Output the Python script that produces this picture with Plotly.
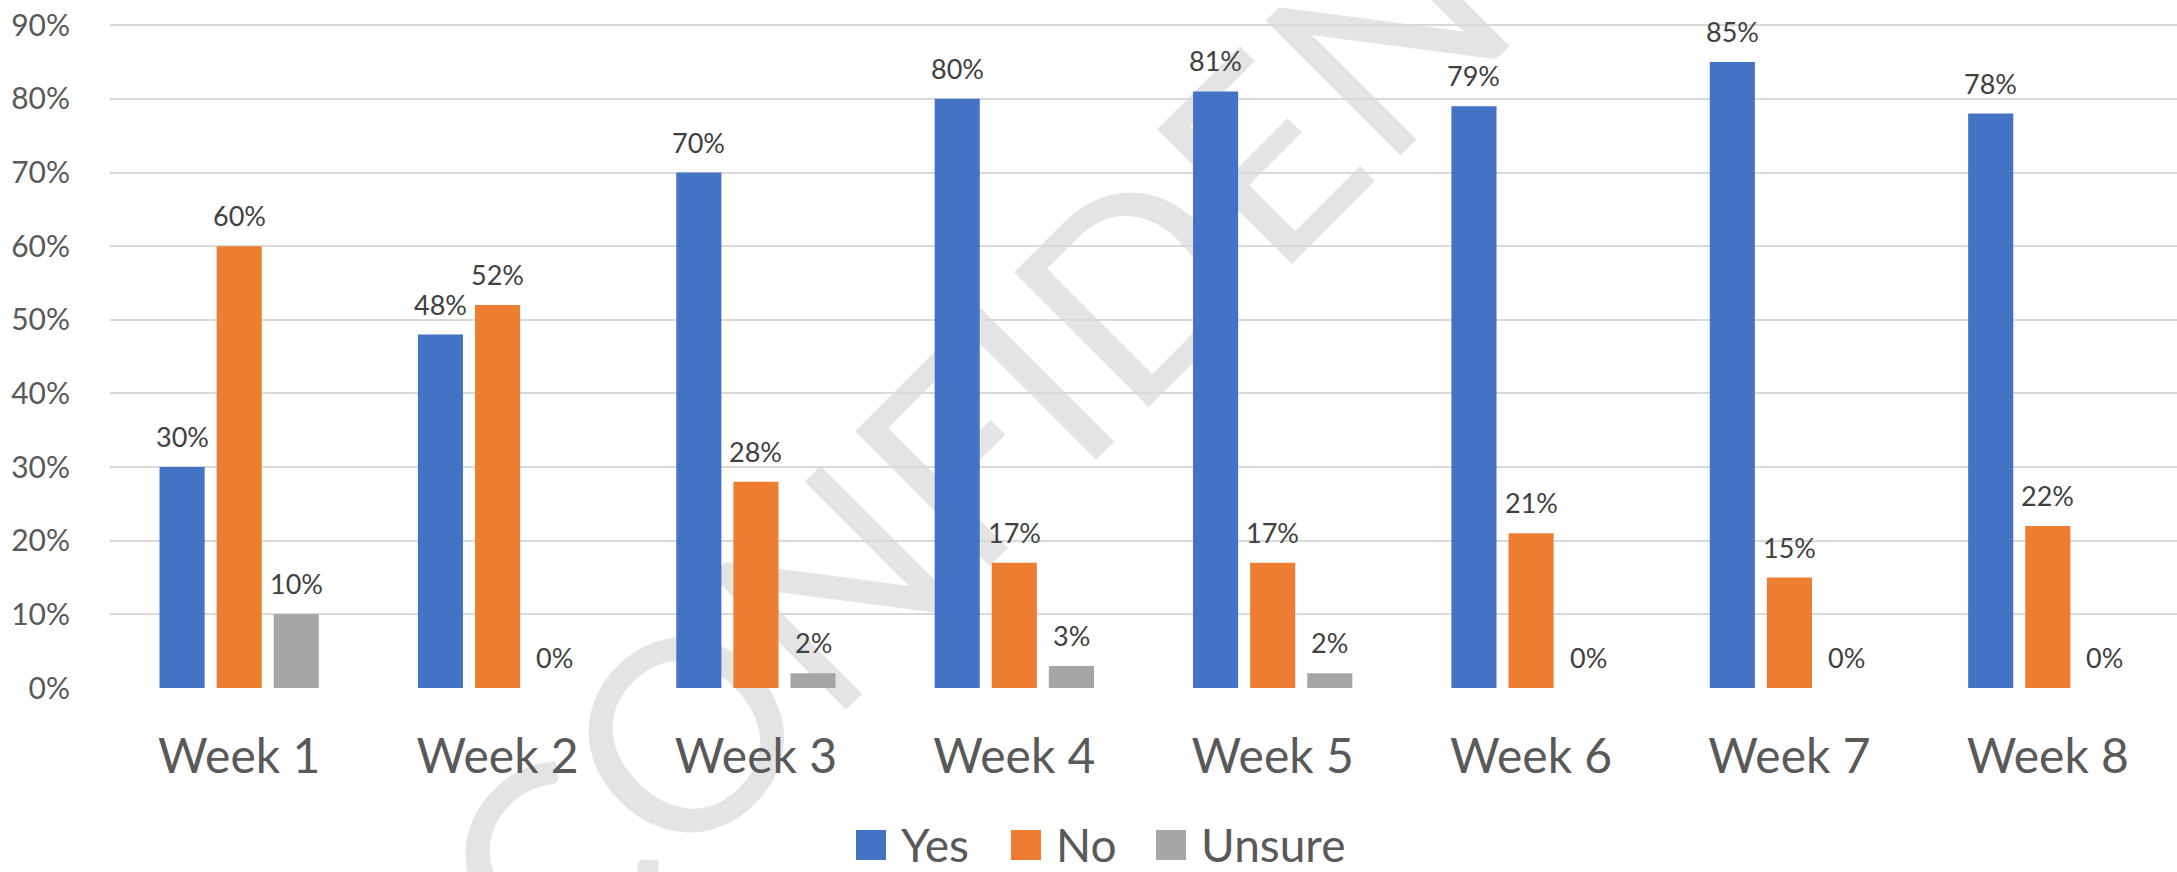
import plotly.graph_objects as go

# ---- data ----
weeks = ["Week 1", "Week 2", "Week 3", "Week 4", "Week 5", "Week 6", "Week 7", "Week 8"]
yes_vals = [30, 48, 70, 80, 81, 79, 85, 78]
no_vals = [60, 52, 28, 17, 17, 21, 15, 22]
unsure_vals = [10, 0, 2, 3, 2, 0, 0, 0]
series_names = ["Yes", "No", "Unsure"]
y_tick_vals = [0, 10, 20, 30, 40, 50, 60, 70, 80, 90]
y_tick_text = ["0%", "10%", "20%", "30%", "40%", "50%", "60%", "70%", "80%", "90%"]
watermark_text = "CONFIDENTIAL"

# ---- style / layout constants ----
colors = ["#4472C4", "#ED7D31", "#A5A5A5"]
W, H = 2177, 872
ML, MR, MT, MB = 110, 0, 23, 184
PW, PH = W - ML - MR, H - MT - MB
BARGAP, BARGROUPGAP = 0.337, 0.21
FONT = "Lato"


def pxx(px):
    return (px - ML) / PW


def pxy(py):
    return (H - MB - py) / PH


series_vals = [yes_vals, no_vals, unsure_vals]

fig = go.Figure()
for name, vals, col in zip(series_names, series_vals, colors):
    fig.add_trace(go.Bar(x=weeks, y=vals, name=name, marker=dict(color=col, line=dict(width=0)),
                         showlegend=False, hoverinfo="x+y+name"))

# data labels above bars
cat_px = PW / len(weeks)
slot = cat_px * (1 - BARGAP) / len(series_names)
annotations = []
for i, vals in enumerate(series_vals):
    for w, v in zip(weeks, vals):
        annotations.append(dict(x=w, y=v, xref="x", yref="y", text=f"{v}%", showarrow=False,
                                xshift=(i - 1) * slot, yanchor="bottom", yshift=12,
                                font=dict(family=FONT, size=27, color="#404040")))

# manual legend (large square swatches)
legend_sq_x = [856, 1011, 1156]
sq = 30
legend_cy = 845
shapes = []
for name, col, x0 in zip(series_names, colors, legend_sq_x):
    shapes.append(dict(type="rect", xref="paper", yref="paper",
                       x0=pxx(x0), x1=pxx(x0 + sq), y0=pxy(legend_cy + sq / 2), y1=pxy(legend_cy - sq / 2),
                       fillcolor=col, line=dict(width=0), layer="above"))
    annotations.append(dict(x=pxx(x0 + sq + 13), y=pxy(legend_cy), xref="paper", yref="paper",
                            text=name, showarrow=False, xanchor="left", yanchor="middle",
                            font=dict(family=FONT, size=46, color="#595959")))

# watermark behind everything
wx, wy = pxx(1160), pxy(246)
shapes.append(dict(type="rect", xref="paper", yref="paper", x0=wx - 0.001, x1=wx + 0.001,
                   y0=wy - 0.001, y1=wy + 0.001, line=dict(width=0), fillcolor="rgba(0,0,0,0)",
                   layer="below",
                   label=dict(text=watermark_text, textangle=-45, textposition="middle center",
                              font=dict(family=FONT, size=266, color="#e4e4e4"))))

fig.update_layout(
    width=W, height=H,
    margin=dict(l=ML, r=MR, t=MT, b=MB, autoexpand=False),
    paper_bgcolor="white", plot_bgcolor="rgba(0,0,0,0)",
    barmode="group", bargap=BARGAP, bargroupgap=BARGROUPGAP,
    font=dict(family=FONT, color="#595959"),
    showlegend=False,
    annotations=annotations, shapes=shapes,
    xaxis=dict(showgrid=False, showline=False, ticks="", zeroline=False,
               tickfont=dict(family=FONT, size=48, color="#595959"), ticklabelstandoff=36),
    yaxis=dict(range=[0, 90.3], tickmode="array", tickvals=y_tick_vals, ticktext=y_tick_text,
               showgrid=True, gridcolor="#d9d9d9", gridwidth=2, zeroline=False, showline=False,
               ticks="", tickfont=dict(family=FONT, size=30, color="#595959"), ticklabelstandoff=39),
)

fig.write_html("out.html", config={"displayModeBar": False},
               post_script="document.body.style.margin='0';document.body.style.overflow='hidden';")
